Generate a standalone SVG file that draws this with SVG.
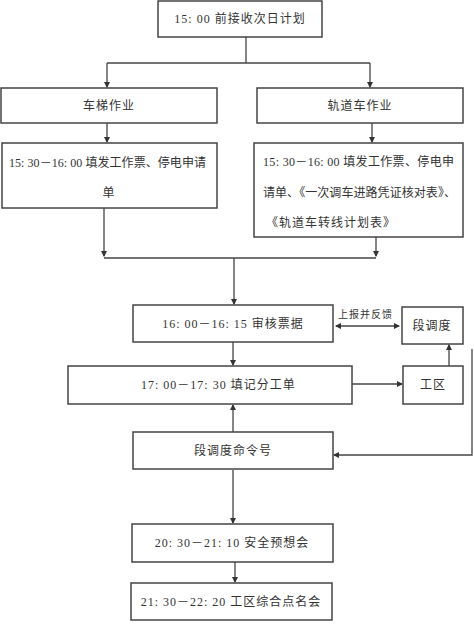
<svg xmlns="http://www.w3.org/2000/svg" width="474" height="624" viewBox="0 0 474 624">
<defs>
<marker id="ah" viewBox="0 0 6 6" refX="5" refY="3" markerWidth="5" markerHeight="5" orient="auto-start-reverse">
<path d="M0,0 L6,3 L0,6 Z" fill="#333"/>
</marker>
<style>
.box{fill:#fff;stroke:#444;stroke-width:1.5}
.t{font-family:"Liberation Serif","Noto Sans CJK SC",serif;font-size:12px;fill:#333;letter-spacing:1px}
.s{font-family:"Liberation Serif","Noto Sans CJK SC",serif;font-size:10px;fill:#333;letter-spacing:1px}
.c{fill:none;stroke:#444;stroke-width:1.3}
</style>
</defs>
<rect width="474" height="624" fill="#fff"/>
<g id="connectors">
<polyline class="c" points="246,37 246,63"/>
<polyline class="c" points="107,63 370,63"/>
<polyline class="c" points="107,63 107,87" marker-end="url(#ah)"/>
<polyline class="c" points="370,63 370,87" marker-end="url(#ah)"/>
<polyline class="c" points="107,123 107,142" marker-end="url(#ah)"/>
<polyline class="c" points="372,123 372,142" marker-end="url(#ah)"/>
<polyline class="c" points="104,208 104,256" marker-end="url(#ah)"/>
<polyline class="c" points="376,237 376,256" marker-end="url(#ah)"/>
<polyline class="c" points="104,258 376,258"/>
<polyline class="c" points="234,258 234,304" marker-end="url(#ah)"/>
<line class="c" x1="336" y1="326" x2="399" y2="326" marker-start="url(#ah)" marker-end="url(#ah)"/>
<polyline class="c" points="233,342 233,365" marker-end="url(#ah)"/>
<polyline class="c" points="352,384 402,384" marker-end="url(#ah)"/>
<polyline class="c" points="449,366 449,345" marker-end="url(#ah)"/>
<polyline class="c" points="472,349 472,455 334,455" marker-end="url(#ah)"/>
<polyline class="c" points="233,432 233,405" marker-end="url(#ah)"/>
<polyline class="c" points="233,470 233,523" marker-end="url(#ah)"/>
<polyline class="c" points="235,562 235,582" marker-end="url(#ah)"/>
<text class="s" x="338" y="318">上报并反馈</text>
</g>
<g id="n1"><rect class="box" x="158" y="1" width="164" height="36"/><text class="t" x="240" y="23" text-anchor="middle">15: 00 前接收次日计划</text></g>
<g id="n2"><rect class="box" x="1" y="88" width="216" height="35"/><text class="t" x="109" y="110" text-anchor="middle">车梯作业</text></g>
<g id="n3"><rect class="box" x="257" y="88" width="206" height="35"/><text class="t" x="360" y="110" text-anchor="middle">轨道车作业</text></g>
<g id="n4"><rect class="box" x="2" y="143" width="215" height="65"/><text class="t" x="9" y="167" textLength="198" lengthAdjust="spacing">15: 30－16: 00 填发工作票、停电申请</text><text class="t" x="109" y="197" text-anchor="middle">单</text></g>
<g id="n5"><rect class="box" x="254" y="143" width="209" height="94"/><text class="t" x="263" y="166" textLength="192" lengthAdjust="spacing">15: 30－16: 00  填发工作票、停电申</text><text class="t" x="263" y="197" textLength="194" lengthAdjust="spacing">请单、《一次调车进路凭证核对表》、</text><text class="t" x="266" y="227">《轨道车转线计划表》</text></g>
<g id="n6"><rect class="box" x="133" y="305" width="200" height="37"/><text class="t" x="233" y="328" text-anchor="middle">16: 00－16: 15 审核票据</text></g>
<g id="n7"><rect class="box" x="402" y="307" width="61" height="37"/><text class="t" x="432" y="330" text-anchor="middle">段调度</text></g>
<g id="n8"><rect class="box" x="68" y="366" width="284" height="38"/><text class="t" x="141" y="389">17: 00－17: 30 填记分工单</text></g>
<g id="n9"><rect class="box" x="403" y="366" width="60" height="38"/><text class="t" x="433" y="389" text-anchor="middle">工区</text></g>
<g id="n10"><rect class="box" x="133" y="432" width="200" height="37"/><text class="t" x="233" y="455" text-anchor="middle">段调度命令号</text></g>
<g id="n11"><rect class="box" x="132" y="524" width="201" height="38"/><text class="t" x="232" y="547" text-anchor="middle">20: 30－21: 10 安全预想会</text></g>
<g id="n12"><rect class="box" x="131" y="583" width="201" height="37"/><text class="t" x="231" y="606" text-anchor="middle">21: 30－22: 20 工区综合点名会</text></g>
</svg>
